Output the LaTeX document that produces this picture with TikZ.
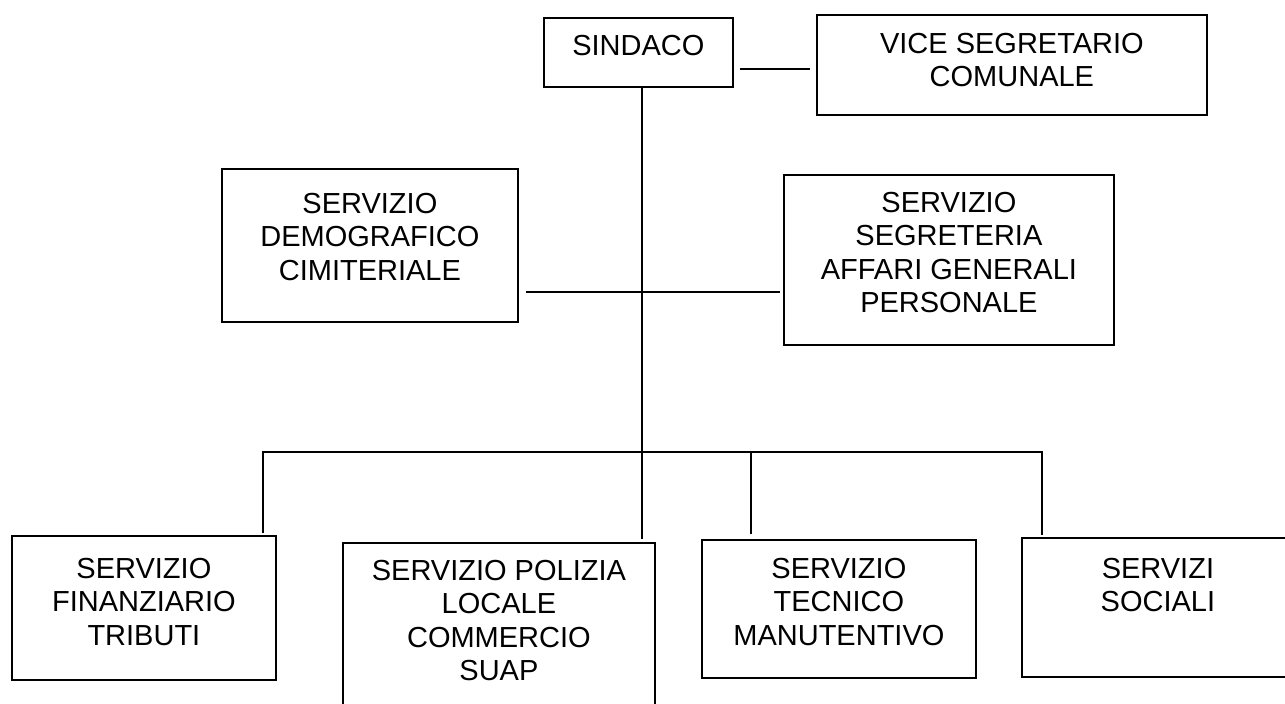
\documentclass[tikz,border=0pt]{standalone}
\usepackage{fontspec}
\setmainfont{Liberation Sans}
\usetikzlibrary{calc}
\tikzset{
  box/.style={draw=black, line width=1.8pt, rectangle, inner sep=0pt, anchor=north west},
  lbl/.style={inner sep=0pt, align=center, anchor=north, font=\fontsize{29}{33.5}\selectfont},
  link/.style={draw=black, line width=1.1pt},
}
\begin{document}
\begin{tikzpicture}[x=1pt,y=-1pt]
\useasboundingbox (0,0) rectangle (1285,704);
\clip (0,0) rectangle (1285,704);
\fill[white] (0,0) rectangle (1285,704);

% boxes
\node[box, minimum width=189pt, minimum height=69pt]  (sind) at (543,17) {};
\node[box, minimum width=390pt, minimum height=100pt] (vice) at (816,14) {};
\node[box, minimum width=296pt, minimum height=153pt] (demo) at (221,168) {};
\node[box, minimum width=330pt, minimum height=170pt] (segr) at (783,174) {};
\node[box, minimum width=264pt, minimum height=144pt] (fin)  at (11,535) {};
\node[box, minimum width=312pt, minimum height=180pt] (pol)  at (342,542) {};
\node[box, minimum width=274pt, minimum height=138pt] (tec)  at (701,539) {};
\node[box, minimum width=272pt, minimum height=139pt] (soc)  at (1021,537) {};

% labels
\node[lbl] (tsind) at ([yshift=-17.6pt]sind.north) {SINDACO};
\node[lbl] (tvice) at ([yshift=-18.6pt]vice.north) {VICE SEGRETARIO\\COMUNALE};
\node[lbl] (tdemo) at ([yshift=-24.6pt]demo.north) {SERVIZIO\\DEMOGRAFICO\\CIMITERIALE};
\node[lbl] (tsegr) at ([yshift=-17.6pt]segr.north) {SERVIZIO\\SEGRETERIA\\AFFARI GENERALI\\PERSONALE};
\node[lbl] (tfin)  at ([yshift=-22.6pt]fin.north)  {SERVIZIO\\FINANZIARIO\\TRIBUTI};
\node[lbl] (tpol)  at ([yshift=-17.6pt]pol.north)  {SERVIZIO POLIZIA\\LOCALE\\COMMERCIO\\SUAP};
\node[lbl] (ttec)  at ([yshift=-18.6pt]tec.north)  {SERVIZIO\\TECNICO\\MANUTENTIVO};
\node[lbl] (tsoc)  at ([yshift=-20.6pt]soc.north)  {SERVIZI\\SOCIALI};

% junction coordinates
\coordinate (tx)   at (642,0);
\coordinate (sv)   at (0,69);
\coordinate (mid)  at (642,292);
\coordinate (busL) at (263,452);
\coordinate (busT) at (751,452);
\coordinate (busR) at (1042,452);

% connectors
\draw[link] ($(sind.east |- sv)+(6,0)$) -- ($(vice.west |- sv)+(-6,0)$);
\draw[link] (sind.south -| tx) -- ($(pol.north -| tx)+(0,-3)$);
\draw[link] ($(demo.east |- mid)+(7,0)$) -- ($(segr.west |- mid)+(-3,0)$);
\draw[link] ($(busL |- fin.north)+(0,-2)$) -- (busL) -- (busR) -- ($(busR |- soc.north)+(0,-2)$);
\draw[link] (busT) -- ($(busT |- tec.north)+(0,-5)$);
\end{tikzpicture}
\end{document}
